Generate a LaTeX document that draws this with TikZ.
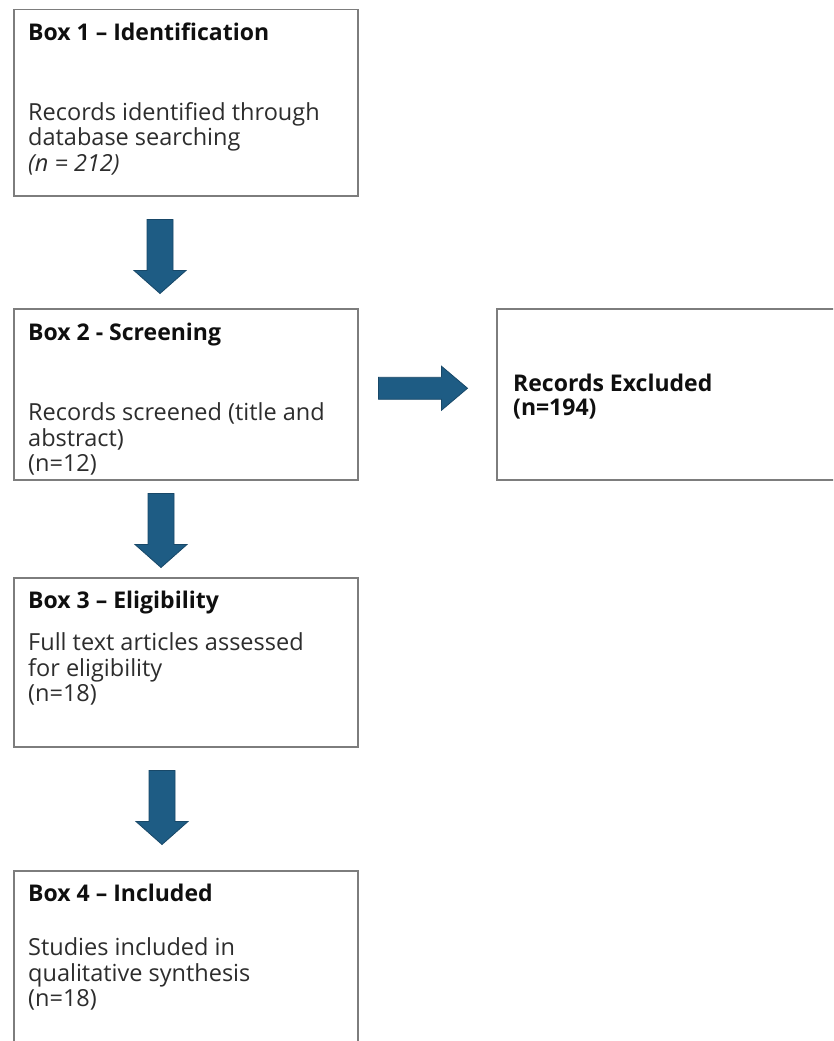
\documentclass[tikz,border=0pt]{standalone}
\usepackage{fontspec}
\setmainfont{Open Sans}
\usetikzlibrary{calc}
\definecolor{arrowblue}{RGB}{30,92,132}
\definecolor{arrowedge}{RGB}{24,72,104}
\definecolor{boxline}{RGB}{125,125,125}
\definecolor{bodytext}{RGB}{45,45,45}
\definecolor{titletext}{RGB}{15,15,15}
\tikzset{
  box/.style={draw=boxline, line width=1.5pt, fill=white, rectangle, inner sep=0pt, anchor=north west},
  ttl/.style={anchor=base west, inner sep=0pt, text=titletext, font=\fontsize{23}{25}\selectfont\bfseries},
  body/.style={anchor=base west, inner sep=0pt, text=bodytext, font=\fontsize{23.5}{25}\selectfont},
  blk/.style={fill=arrowblue, draw=arrowedge, line width=0.8pt, line join=miter},
  downblk/.pic={\path[blk] (-13,0) -- (13,0) -- (13,51) -- (26,51) -- (0,74) -- (-26,51) -- (-13,51) -- cycle;},
  rightblk/.pic={\path[blk] (0,-11) -- (63,-11) -- (63,-22) -- (89,0) -- (63,22) -- (63,11) -- (0,11) -- cycle;}
}
\begin{document}
\begin{tikzpicture}[x=1pt,y=-1pt]
\useasboundingbox (0,0) rectangle (833,1041);
\clip (0,0) rectangle (833,1041);
\fill[white] (0,0) rectangle (833,1041);

% boxes
\node[box, minimum width=344pt, minimum height=186pt] (b1) at (13,9) {};
\node[box, minimum width=344pt, minimum height=171pt] (b2) at (13,308) {};
\node[box, minimum width=349pt, minimum height=171pt] (bx) at (496,308) {};
\node[box, minimum width=344pt, minimum height=169pt] (b3) at (13,577) {};
\node[box, minimum width=344pt, minimum height=185pt] (b4) at (13,870) {};

% box 1 text
\node[ttl] (t1) at (28,41) {Box 1 – Identification};
\node[body] (t1a) at (28,120) {Records identified through};
\node[body] (t1b) at (28,145.5) {database searching};
\node[body] (t1c) at (28,171) {\itshape (n = 212)};

% box 2 text
\node[ttl] (t2) at (28,340) {Box 2 - Screening};
\node[body] (t2a) at (28,420) {Records screened (title and};
\node[body] (t2b) at (28,446) {abstract)};
\node[body] (t2c) at (28,471) {(n=12)};

% excluded box text
\node[ttl] (tx) at (513,391) {Records Excluded};
\node[ttl] (txa) at (513,415) {(n=194)};

% box 3 text
\node[ttl] (t3) at (28,608) {Box 3 – Eligibility};
\node[body] (t3a) at (28,650) {Full text articles assessed};
\node[body] (t3b) at (28,676) {for eligibility};
\node[body] (t3c) at (28,701) {(n=18)};

% box 4 text
\node[ttl] (t4) at (28,901) {Box 4 – Included};
\node[body] (t4a) at (28,955) {Studies included in};
\node[body] (t4b) at (28,981) {qualitative synthesis};
\node[body] (t4c) at (28,1006) {(n=18)};

% block arrows between boxes
\coordinate (a1) at ($(b1.south west)+(147,23)$);
\coordinate (a2) at ($(b2.south west)+(148,13)$);
\coordinate (a3) at ($(b3.south west)+(149,23)$);
\coordinate (ax) at ($(b2.east)+(20,-6)$);
\pic at (a1) {downblk};
\pic at (a2) {downblk};
\pic at (a3) {downblk};
\pic at (ax) {rightblk};
\end{tikzpicture}
\end{document}
